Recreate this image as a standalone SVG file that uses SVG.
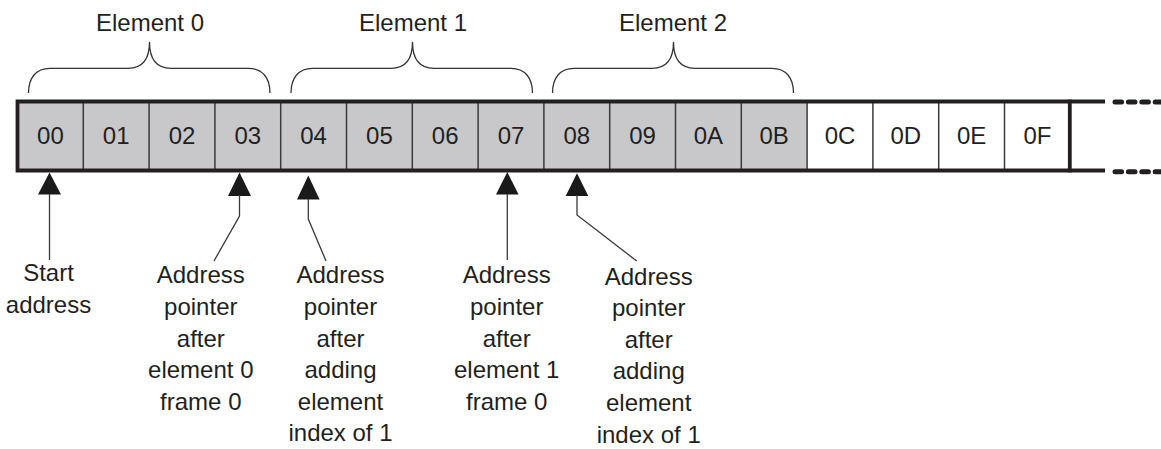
<svg xmlns="http://www.w3.org/2000/svg" width="1161" height="449" viewBox="0 0 1161 449">
<defs>
<style>
text{font-family:"Liberation Sans",Arial,Helvetica,sans-serif;font-size:24px;fill:#231f20;text-anchor:middle}
.g{fill:#c8c8ca}
.w{fill:#ffffff}
.div{stroke:#3a3a3a;stroke-width:1.5}
.frame{stroke:#231f20;stroke-width:3.8;fill:none}
.brace{stroke:#333;stroke-width:1.3;fill:none}
.ptr{stroke:#3a3a3a;stroke-width:1.3;fill:none}
.head{fill:#1a1a1a}
.dash{stroke:#231f20;stroke-width:5;stroke-linecap:round;stroke-dasharray:6.6 6.8;fill:none}
</style>
</defs>
<rect width="1161" height="449" fill="#ffffff"/>

<g id="brace-0">
<path class="brace" d="M28.5,93 C28.5,78 36,68.3 50,68.3 L128,68.3 C142,68.3 149.5,60 149.5,42 C149.5,60 157,68.3 171,68.3 L248.5,68.3 C262.5,68.3 270,78 270,93"/>
<text x="150" y="30.7">Element 0</text>
</g>
<g id="brace-1">
<path class="brace" d="M291,93 C291,78 298.5,68.3 312.5,68.3 L391,68.3 C405,68.3 412.5,60 412.5,42 C412.5,60 420,68.3 434,68.3 L511,68.3 C525,68.3 532.5,78 532.5,93"/>
<text x="413" y="30.7">Element 1</text>
</g>
<g id="brace-2">
<path class="brace" d="M552.5,93 C552.5,78 560,68.3 574,68.3 L652,68.3 C666,68.3 673.5,60 673.5,42 C673.5,60 681,68.3 695,68.3 L772,68.3 C786,68.3 793.5,78 793.5,93"/>
<text x="673" y="30.7">Element 2</text>
</g>

<g id="cell-00"><rect class="g" x="17.5" y="101.5" width="65.8" height="69"/><text x="50.4" y="143.5">00</text></g>
<g id="cell-01"><rect class="g" x="83.3" y="101.5" width="65.8" height="69"/><text x="116.2" y="143.5">01</text></g>
<g id="cell-02"><rect class="g" x="149.1" y="101.5" width="65.8" height="69"/><text x="182" y="143.5">02</text></g>
<g id="cell-03"><rect class="g" x="214.9" y="101.5" width="65.8" height="69"/><text x="247.8" y="143.5">03</text></g>
<g id="cell-04"><rect class="g" x="280.7" y="101.5" width="65.8" height="69"/><text x="313.6" y="143.5">04</text></g>
<g id="cell-05"><rect class="g" x="346.5" y="101.5" width="65.8" height="69"/><text x="379.4" y="143.5">05</text></g>
<g id="cell-06"><rect class="g" x="412.3" y="101.5" width="65.8" height="69"/><text x="445.2" y="143.5">06</text></g>
<g id="cell-07"><rect class="g" x="478.1" y="101.5" width="65.8" height="69"/><text x="511" y="143.5">07</text></g>
<g id="cell-08"><rect class="g" x="543.9" y="101.5" width="65.8" height="69"/><text x="576.8" y="143.5">08</text></g>
<g id="cell-09"><rect class="g" x="609.7" y="101.5" width="65.8" height="69"/><text x="642.6" y="143.5">09</text></g>
<g id="cell-0A"><rect class="g" x="675.5" y="101.5" width="65.8" height="69"/><text x="708.4" y="143.5">0A</text></g>
<g id="cell-0B"><rect class="g" x="741.3" y="101.5" width="65.8" height="69"/><text x="774.2" y="143.5">0B</text></g>
<g id="cell-0C"><rect class="w" x="807.1" y="101.5" width="65.8" height="69"/><text x="840" y="143.5">0C</text></g>
<g id="cell-0D"><rect class="w" x="872.9" y="101.5" width="65.8" height="69"/><text x="905.8" y="143.5">0D</text></g>
<g id="cell-0E"><rect class="w" x="938.7" y="101.5" width="65.8" height="69"/><text x="971.6" y="143.5">0E</text></g>
<g id="cell-0F"><rect class="w" x="1004.5" y="101.5" width="65.8" height="69"/><text x="1037.4" y="143.5">0F</text></g>

<g id="frame">
<path class="div" d="M83.3,101.5V170.5 M149.1,101.5V170.5 M214.9,101.5V170.5 M280.7,101.5V170.5 M346.5,101.5V170.5 M412.3,101.5V170.5 M478.1,101.5V170.5 M543.9,101.5V170.5 M609.7,101.5V170.5 M675.5,101.5V170.5 M741.3,101.5V170.5 M807.1,101.5V170.5 M872.9,101.5V170.5 M938.7,101.5V170.5 M1004.5,101.5V170.5"/>
<path class="frame" d="M17.5,101.5H1105 M17.5,170.5H1105 M17.5,99.6V172.4"/>
<path class="frame" stroke-width="4.8" d="M1069.8,99.6V172.4"/>
<path class="dash" d="M1115,102H1161 M1115,171.7H1161"/>
</g>

<g id="connectors">
<polygon class="head" points="49.5,172.5 38,194.5 61,194.5"/>
<path class="ptr" d="M49.5,194V260"/>
<polygon class="head" points="239.5,172.5 228,196 251,196"/>
<path class="ptr" d="M239.5,195V216L214,261"/>
<polygon class="head" points="308.3,175.5 297,199.5 319.6,199.5"/>
<path class="ptr" d="M308.3,199V219L326,261"/>
<polygon class="head" points="507.3,172 496,194.5 518.6,194.5"/>
<path class="ptr" d="M507.3,194V260"/>
<polygon class="head" points="577,173.3 565.7,196 588.3,196"/>
<path class="ptr" d="M577,195V215L636.7,261"/>
</g>

<g id="label-start">
<text x="48.5" y="280.7">Start</text>
<text x="48.5" y="312.5">address</text>
</g>
<g id="label-elem0-frame0">
<text x="200.8" y="283.3">Address</text>
<text x="200.8" y="314.9">pointer</text>
<text x="200.8" y="346.5">after</text>
<text x="200.8" y="378.1">element 0</text>
<text x="200.8" y="409.7">frame 0</text>
</g>
<g id="label-add-index-1">
<text x="340.5" y="283.3">Address</text>
<text x="340.5" y="314.9">pointer</text>
<text x="340.5" y="346.5">after</text>
<text x="340.5" y="378.1">adding</text>
<text x="340.5" y="409.7">element</text>
<text x="340.5" y="441.3">index of 1</text>
</g>
<g id="label-elem1-frame0">
<text x="506.7" y="283.3">Address</text>
<text x="506.7" y="314.9">pointer</text>
<text x="506.7" y="346.5">after</text>
<text x="506.7" y="378.1">element 1</text>
<text x="506.7" y="409.7">frame 0</text>
</g>
<g id="label-add-index-1b">
<text x="648.7" y="284.5">Address</text>
<text x="648.7" y="316.1">pointer</text>
<text x="648.7" y="347.7">after</text>
<text x="648.7" y="379.3">adding</text>
<text x="648.7" y="410.9">element</text>
<text x="648.7" y="442.5">index of 1</text>
</g>
</svg>
